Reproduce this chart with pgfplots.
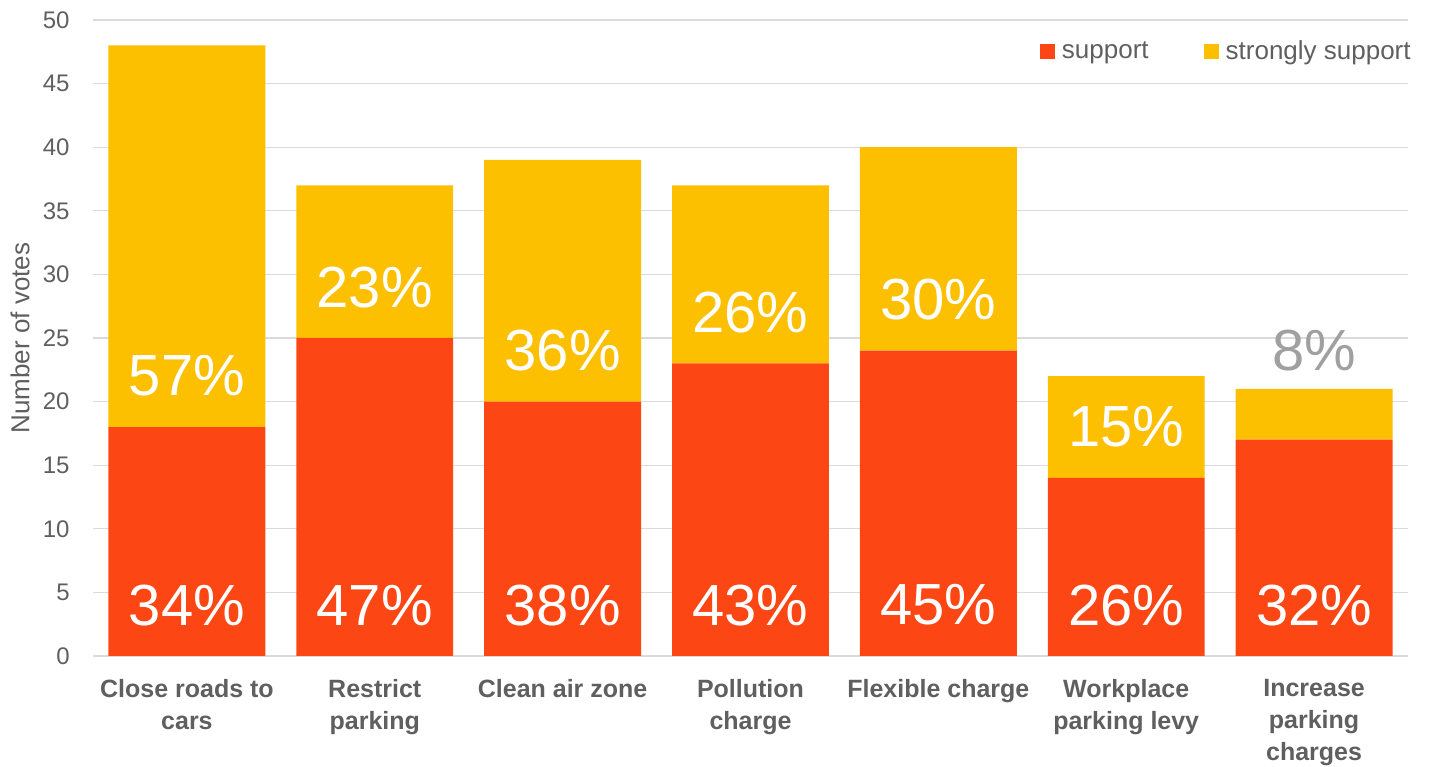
\documentclass[border=0pt]{standalone}
\usepackage{pgfplots}
\pgfplotsset{compat=1.18}
\usepackage{fontspec}
\setmainfont{Liberation Sans}
\definecolor{sup}{HTML}{FC4714}
\definecolor{ssup}{HTML}{FCC000}
\definecolor{txt}{HTML}{5F5F5F}
\definecolor{gridc}{HTML}{DADADA}
\definecolor{lbl}{HTML}{A0A0A0}
\pgfplotsset{base/.style={width=657.5pt, height=318pt, scale only axis,
  xmin=-0.5, xmax=6.5, ymin=0, ymax=50}}
\pgfplotstableread{
x sup ssup
0 18 30
1 25 12
2 20 19
3 23 14
4 24 16
5 14 8
6 17 4
}\votes
\begin{document}
\begin{tikzpicture}
\begin{axis}[base, ybar stacked, bar width=0.835,
  axis line style={draw=none},
  tick style={draw=none}, major tick length=0pt,
  ymajorgrids, grid style={gridc, line width=0.65pt},
  ytick={0,5,...,50},
  xtick={0,...,6},
  xticklabels={{Close roads to\\cars},{Restrict\\parking},{Clean air zone},{Pollution\\charge},{Flexible charge},{Workplace\\parking levy},{Increase\\parking\\charges}},
  xticklabel style={align=center, anchor=north, inner sep=0pt, yshift=-11.5pt,
    font=\bfseries\fontsize{12.5}{16}\selectfont, text=txt},
  /pgf/number format/assume math mode=true,
  yticklabel style={anchor=east, inner sep=0pt, xshift=-11.5pt,
    font=\fontsize{12}{12}\selectfont, text=txt},
  ylabel={Number of votes},
  every axis y label/.style={at={(axis description cs:-0.0555,0.5)}, rotate=90, anchor=center,
    font=\fontsize{13}{13}\selectfont, text=txt},
  legend columns=2,
  legend image code/.code={\fill[#1, draw=none] (0pt,-3.75pt) rectangle (7.5pt,3.75pt); \path (9.5pt,0pt);},
  legend style={at={(axis description cs:1.0046,0.951)}, anchor=east, draw=none, fill=none,
    inner sep=0pt, font=\fontsize{13}{13}\selectfont, text=txt,
    nodes={inner sep=1.5pt},
    /tikz/every even column/.append style={column sep=26pt}},
]
\addplot[fill=sup, draw=none] table[x=x, y=sup] {\votes};
\addlegendentry{support}
\addplot[fill=ssup, draw=none] table[x=x, y=ssup] {\votes};
\addlegendentry{strongly support}
\coordinate (bl) at (rel axis cs:0,0);
\coordinate (tr) at (rel axis cs:1,1);
\end{axis}
\begin{axis}[base, hide axis, clip=false,
  nodes near coords, point meta=explicit symbolic,
  nodes near coords align={center},
  every node near coord/.append style={anchor=center, inner sep=0pt,
    font=\fontsize{29}{29}\selectfont}]
\addplot[only marks, mark=none, every node near coord/.append style={text=white}]
  table[x=x, y=y, meta=label] {
x y label
0 4 34\%
1 4 47\%
2 4 38\%
3 4 43\%
4 4 45\%
5 4 26\%
6 4 32\%
0 22 57\%
1 29 23\%
2 24 36\%
3 27 26\%
4 28 30\%
5 18 15\%
};
\addplot[only marks, mark=none, every node near coord/.append style={text=lbl}]
  table[x=x, y=y, meta=label] {
x y label
6 24 8\%
};
\end{axis}
\pgfresetboundingbox
\path ([shift={(-46.5pt,-55.5pt)}]bl) rectangle ([shift={(11pt,10pt)}]tr);
\end{tikzpicture}
\end{document}
